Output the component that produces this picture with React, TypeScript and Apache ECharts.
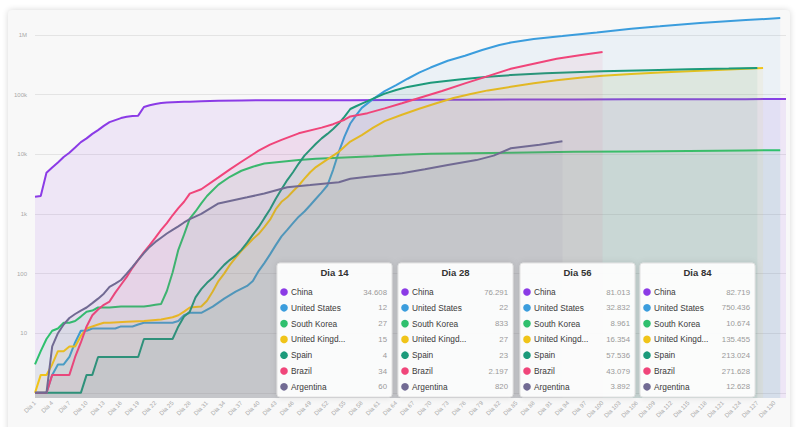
import React, { useEffect, useRef } from 'react';
import * as echarts from 'echarts';

// ---- data ----
const dayLabels: string[] = Array.from({ length: 132 }, (_, i) => `Dia ${i + 1}`);

const countries = ['China', 'United States', 'South Korea', 'United Kingdom', 'Spain', 'Brazil', 'Argentina'];
const colors = ['#8b3be6', '#3b9ddd', '#2fc06e', '#f0c419', '#1c9a7a', '#f0457a', '#716a93'];

const chinaData: [number, number][] = [
  [1, 1950], [2, 2000], [3, 4900], [4, 6000], [5, 7300], [6, 9000], [7, 10600], [8, 13000], [9, 16000],
  [10, 18500], [11, 22000], [12, 25500], [13, 30000], [14, 34608], [15, 37500], [16, 40500], [17, 42500],
  [18, 44000], [19, 44500], [20, 62000], [21, 66500], [22, 70000], [23, 72400], [24, 74000], [25, 74800],
  [26, 75300], [27, 75800], [28, 76291], [30, 77800], [33, 79000], [37, 80000], [42, 80600], [50, 80900],
  [56, 81013], [63, 81500], [70, 82000], [77, 82400], [84, 82719], [95, 83400], [105, 83800], [115, 84000],
  [125, 84200], [132, 84400],
];
const usData: [number, number][] = [
  [1, 1], [2, 1], [3, 1], [4, 2], [5, 3], [6, 3], [7, 4], [8, 7], [9, 11], [10, 11], [11, 12], [12, 12],
  [13, 12], [14, 12], [15, 12], [16, 13], [17, 13], [18, 13], [19, 14], [20, 15], [22, 15], [24, 15],
  [25, 15], [26, 16], [27, 20], [28, 22], [30, 22], [32, 28], [34, 38], [36, 50], [38, 62], [39, 75],
  [40, 110], [41, 150], [42, 210], [43, 300], [44, 420], [45, 540], [46, 700], [47, 900], [48, 1100],
  [49, 1400], [50, 1800], [51, 2300], [52, 3000], [53, 5500], [54, 11000], [55, 20000], [56, 32832],
  [57, 45000], [58, 60000], [60, 85000], [62, 115000], [64, 145000], [66, 185000], [68, 235000],
  [70, 285000], [73, 370000], [76, 450000], [79, 560000], [82, 680000], [84, 750436], [88, 860000],
  [93, 960000], [99, 1100000], [105, 1280000], [110, 1400000], [117, 1590000], [125, 1780000], [131, 1930000],
];
const koreaData: [number, number][] = [
  [1, 3], [2, 5], [3, 8], [4, 11], [5, 12], [6, 15], [7, 15], [8, 16], [9, 19], [10, 23], [11, 24],
  [12, 27], [13, 27], [14, 27], [16, 28], [18, 28], [20, 28], [21, 29], [22, 30], [23, 31], [24, 51],
  [25, 104], [26, 250], [27, 450], [28, 833], [29, 1100], [30, 1500], [31, 2000], [32, 2500], [33, 3100],
  [35, 4200], [37, 5300], [39, 6200], [41, 7000], [44, 7500], [47, 8000], [50, 8400], [53, 8700],
  [56, 8961], [60, 9300], [65, 9800], [70, 10200], [77, 10450], [84, 10674], [95, 11000], [105, 11200],
  [115, 11400], [125, 11600], [131, 11700],
];
const ukData: [number, number][] = [
  [1, 1], [2, 2], [3, 2], [4, 3], [5, 5], [6, 5], [7, 6], [8, 6], [9, 9], [10, 12], [11, 13], [12, 14],
  [13, 15], [14, 15], [17, 15.5], [20, 16], [23, 17], [25, 18.5], [26, 20], [27, 23], [28, 27], [29, 27.5],
  [30, 28], [31, 35], [32, 50], [33, 75], [34, 100], [35, 140], [36, 185], [37, 240], [38, 300], [39, 380],
  [40, 460], [41, 600], [42, 800], [43, 1200], [44, 1600], [45, 1900], [46, 2400], [47, 3000], [48, 3900],
  [49, 5000], [50, 6100], [52, 8200], [54, 11000], [56, 16354], [58, 21000], [60, 28000], [62, 36000],
  [65, 46000], [68, 58000], [71, 72000], [74, 88000], [77, 103000], [80, 118000], [84, 135455],
  [88, 155000], [92, 175000], [96, 192000], [100, 207000], [105, 222000], [110, 236000], [117, 252000],
  [122, 265000], [128, 280000],
];
const spainData: [number, number][] = [
  [1, 1], [9, 1], [10, 2], [11, 2], [12, 4], [13, 4], [14, 4], [19, 4], [20, 8], [21, 8], [25, 8],
  [26, 13], [27, 19], [28, 23], [29, 40], [30, 55], [31, 70], [32, 85], [33, 110], [34, 140], [35, 170],
  [36, 200], [37, 250], [38, 330], [39, 450], [40, 600], [41, 850], [42, 1200], [43, 1800], [44, 2600],
  [45, 3700], [46, 5000], [47, 7000], [48, 9500], [49, 12000], [50, 15000], [51, 18500], [52, 22000],
  [53, 26500], [54, 33000], [55, 43000], [56, 57536], [57, 64000], [58, 71000], [59, 78000], [60, 86000],
  [62, 104000], [64, 120000], [66, 135000], [70, 158000], [75, 180000], [80, 199000], [84, 213024],
  [90, 228000], [95, 238000], [100, 248000], [108, 258000], [115, 266000], [122, 274000], [127, 280000],
];
const brazilData: [number, number][] = [
  [1, 1], [3, 1], [4, 2], [5, 2], [6, 2], [7, 2], [8, 4], [9, 7], [10, 13], [11, 20], [12, 25], [13, 30],
  [14, 34], [15, 48], [16, 65], [17, 88], [18, 125], [19, 170], [20, 230], [21, 300], [22, 400], [23, 540],
  [24, 700], [25, 950], [26, 1250], [27, 1600], [28, 2197], [30, 2600], [33, 4100], [35, 5600], [37, 7500],
  [40, 11500], [42, 14500], [44, 17500], [47, 22500], [51, 28000], [53, 32000], [55, 38000], [56, 43079],
  [59, 49000], [62, 59000], [65, 72000], [68, 88000], [72, 115000], [76, 155000], [80, 205000],
  [84, 271628], [88, 330000], [92, 400000], [96, 460000], [100, 520000],
];
const argentinaData: [number, number][] = [
  [1, 1], [3, 1], [4, 6], [5, 10], [6, 14], [7, 18], [8, 21], [9, 24], [10, 27], [11, 32], [12, 38],
  [13, 46], [14, 60], [15, 68], [16, 78], [17, 100], [18, 130], [19, 170], [20, 220], [21, 280], [22, 340],
  [23, 400], [24, 470], [25, 540], [26, 620], [27, 720], [28, 820], [30, 1000], [33, 1500], [38, 1900],
  [41, 2200], [45, 2800], [49, 3050], [54, 3400], [56, 3892], [59, 4200], [65, 4800], [69, 5600],
  [73, 6600], [78, 8000], [81, 9500], [84, 12628], [89, 14500], [93, 16500],
];
const seriesData = [chinaData, usData, koreaData, ukData, spainData, brazilData, argentinaData];

const tableDays = [14, 28, 56, 84];
const tableValues = [
  [34608, 12, 27, 15, 4, 34, 60],
  [76291, 22, 833, 27, 23, 2197, 820],
  [81013, 32832, 8961, 16354, 57536, 43079, 3892],
  [82719, 750436, 10674, 135455, 213024, 271628, 12628],
];

// ---- layout ----
const TABLE_LEFTS = [277, 398, 520, 640];
const TABLE_TOP = 263;
const TABLE_W = 115;
const TABLE_H = 134;
const FONT = '"Liberation Sans", Arial, sans-serif';

const fmt = (n: number) => String(n).replace(/\B(?=(\d{3})+(?!\d))/g, '.');
const trunc = (s: string) => (s.length > 13 ? s.slice(0, 12) + '...' : s);

function buildTables() {
  const els: any[] = [];
  tableDays.forEach((day, t) => {
    const left = TABLE_LEFTS[t];
    els.push({
      type: 'rect',
      z: 100,
      shape: { x: left, y: TABLE_TOP, width: TABLE_W, height: TABLE_H, r: 3 },
      style: {
        fill: 'rgba(255,255,255,0.93)',
        stroke: '#e2e2e2',
        lineWidth: 1,
        shadowBlur: 6,
        shadowColor: 'rgba(0,0,0,0.12)',
      },
    });
    els.push({
      type: 'text',
      z: 101,
      x: left + TABLE_W / 2,
      y: TABLE_TOP + 9,
      style: {
        text: `Dia ${day}`,
        fill: '#333',
        font: `bold 9.5px ${FONT}`,
        textAlign: 'center',
        textVerticalAlign: 'middle',
        align: 'center',
        verticalAlign: 'middle',
      },
    });
    countries.forEach((c, i) => {
      const cy = TABLE_TOP + 29 + i * 15.8;
      els.push({
        type: 'circle',
        z: 101,
        shape: { cx: left + 7, cy, r: 3.8 },
        style: { fill: colors[i] },
      });
      els.push({
        type: 'text',
        z: 101,
        x: left + 14,
        y: cy,
        style: {
          text: trunc(c),
          fill: '#3a3a3a',
          font: `8.3px ${FONT}`,
          textAlign: 'left',
          textVerticalAlign: 'middle',
          align: 'left',
          verticalAlign: 'middle',
        },
      });
      els.push({
        type: 'text',
        z: 101,
        x: left + 110,
        y: cy,
        style: {
          text: fmt(tableValues[t][i]),
          fill: '#9a9a9a',
          font: `7.8px ${FONT}`,
          textAlign: 'right',
          textVerticalAlign: 'middle',
          align: 'right',
          verticalAlign: 'middle',
        },
      });
    });
  });
  return els;
}

export default function App() {
  const ref = useRef<HTMLDivElement>(null);
  useEffect(() => {
    if (!ref.current) return;
    const chart = echarts.init(ref.current, undefined, { renderer: 'svg' });
    chart.setOption({
      animation: false,
      backgroundColor: 'transparent',
      grid: { left: 35, right: 11, top: 10, bottom: 29 },
      xAxis: {
        type: 'category',
        data: dayLabels,
        boundaryGap: false,
        axisLine: { show: false },
        axisTick: { show: false },
        axisLabel: {
          interval: 2,
          rotate: 45,
          fontSize: 6,
          color: '#a8a8a8',
          margin: 4,
          fontFamily: FONT,
        },
        splitLine: { show: false },
      },
      yAxis: {
        type: 'log',
        logBase: 10,
        min: 0.82,
        max: 2630000,
        axisLine: { show: false },
        axisTick: { show: false },
        axisLabel: {
          fontSize: 6,
          color: '#a8a8a8',
          margin: 8,
          fontFamily: FONT,
          showMinLabel: false,
          showMaxLabel: false,
          formatter: (v: number) => {
            const r = Math.round(v);
            if (r < 5) return '';
            if (r >= 1e6) return r / 1e6 + 'M';
            if (r >= 1e3) return r / 1e3 + 'k';
            return String(r);
          },
        },
        splitLine: {
          show: true,
          showMinLine: false,
          showMaxLine: false,
          lineStyle: { color: '#e4e4e4', width: 1 },
        },
      },
      series: countries.map((name, i) => ({
        name,
        type: 'line',
        data: seriesData[i].map(([d, v]) => [d - 1, v]),
        showSymbol: false,
        symbol: 'none',
        lineStyle: { width: 2, color: colors[i] },
        itemStyle: { color: colors[i] },
        areaStyle: { color: colors[i], opacity: i === 0 ? 0.09 : 0.065 },
        z: 2 + i,
      })),
      graphic: buildTables(),
    });
    return () => chart.dispose();
  }, []);

  return (
    <div style={{ position: 'fixed', left: 0, top: 0, width: 797, height: 427, background: '#fff', overflow: 'hidden' }}>
      <div
        style={{
          position: 'absolute',
          left: 8,
          top: 10,
          width: 782,
          height: 440,
          background: '#f8f8f8',
          borderRadius: 4,
          boxShadow: '0 0 6px rgba(0,0,0,0.16)',
        }}
      />
      <div ref={ref} style={{ position: 'absolute', left: 0, top: 0, width: 797, height: 427 }} />
    </div>
  );
}
